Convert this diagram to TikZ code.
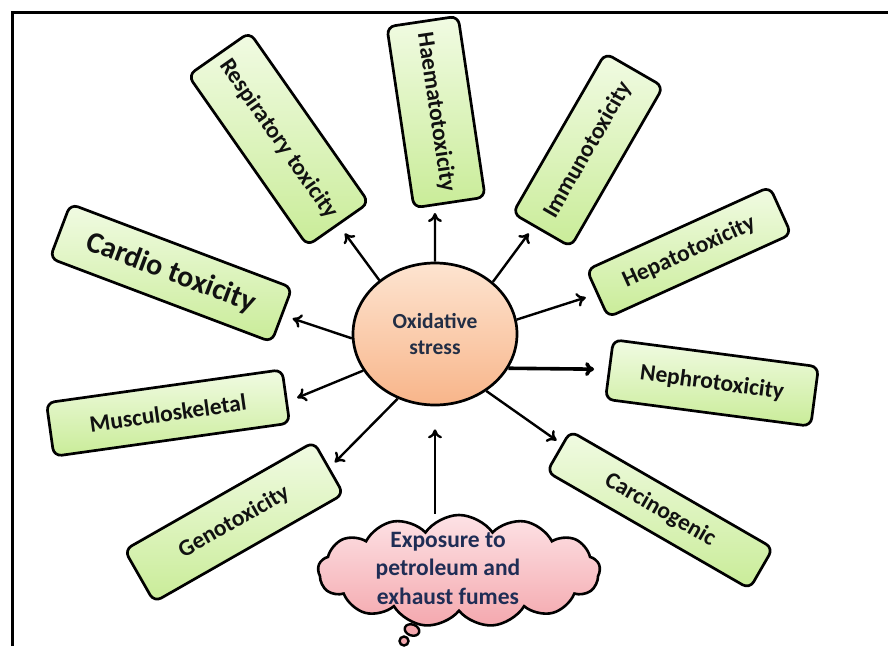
\documentclass[tikz,border=0pt]{standalone}
\usepackage{fontspec}
\setmainfont{Carlito}
\usetikzlibrary{shapes.symbols,shapes.geometric,arrows.meta,calc}
\definecolor{gA}{HTML}{F1FBE3}
\definecolor{gB}{HTML}{C9EC98}
\definecolor{oA}{HTML}{FDE4D0}
\definecolor{oB}{HTML}{F8B58A}
\definecolor{pA}{HTML}{FDE2E5}
\definecolor{pB}{HTML}{F4A8AE}
\definecolor{navy}{HTML}{1F2D55}
\definecolor{navytwo}{HTML}{222E45}
\definecolor{inkc}{HTML}{111111}
\begin{document}
\begin{tikzpicture}[x=1pt,y=-1pt,
  toxbox/.style={draw=black, line width=2.7pt, rounded corners=8pt, inner sep=0pt,
    top color=gA, bottom color=gB, text=inkc, font=\fontsize{23.5}{27}\selectfont\bfseries},
  arr/.style={-{To[length=9pt,width=14pt]}, line width=2.4pt},
  bubble/.style={draw=black, line width=2.4pt, fill=pB, inner sep=0pt},
]
\useasboundingbox (0,0) rectangle (888,646);
\fill[white] (0,0) rectangle (888,646);
\draw[line width=3pt] (12,646) -- (12,12) -- (888,12);

% boxes
\node[toxbox, rotate=-55, minimum width=208pt, minimum height=75pt] (resp) at (278.5,139) {Respiratory toxicity};
\node[toxbox, rotate=-81.5, minimum width=183pt, minimum height=72pt] (haem) at (436,112) {Haematotoxicity};
\node[toxbox, rotate=60, minimum width=185pt, minimum height=67pt] (immu) at (588,150) {Immunotoxicity};
\node[toxbox, rotate=24.4, minimum width=201pt, minimum height=52pt] (hepa) at (689,252) {Hepatotoxicity};
\node[toxbox, rotate=-7.5, minimum width=207pt, minimum height=60pt] (neph) at (712,383) {Nephrotoxicity};
\node[toxbox, rotate=-30, minimum width=234pt, minimum height=47pt] (carc) at (660,510) {Carcinogenic};
\node[toxbox, rotate=8, minimum width=238pt, minimum height=54pt] (musc) at (168,413) {Musculoskeletal};
\node[toxbox, rotate=29.7, minimum width=218pt, minimum height=60pt] (geno) at (234,522) {Genotoxicity};
\node[toxbox, rotate=-20.7, minimum width=237pt, minimum height=58pt, font=\fontsize{30}{34}\selectfont\bfseries] (card) at (171,273) {Cardio toxicity};

% centre
\node[ellipse, draw=black, line width=2.7pt, minimum width=164pt, minimum height=142pt,
  top color=oA, bottom color=oB, inner sep=0pt, align=center, text=navytwo,
  font=\fontsize{21.5}{26}\selectfont\bfseries] (ox) at (435,334) {Oxidative\\stress};

% cloud
\node[cloud, cloud puffs=13, cloud puff arc=110, cloud ignores aspect, draw=black, line width=2.6pt,
  minimum width=282pt, minimum height=112pt, top color=pA, bottom color=pB, inner sep=0pt] (cloud) at (459,571) {};
\node[align=center, text=navy, font=\fontsize{23.5}{28.5}\selectfont\bfseries] (cloudtxt) at (448,568)
  {Exposure to\\petroleum and\\exhaust fumes};
\node[bubble, ellipse, minimum width=15pt, minimum height=11pt, rotate=-20] (bubA) at (412,630) {};
\node[bubble, circle, minimum size=9pt] (bubB) at (404,641) {};

% arrows
\draw[arr, shorten >=10pt] (ox.136.5) -- (resp.east);
\draw[arr, shorten >=7pt] (ox.90) -- ($(haem.east)!0.4!(haem.south east)$);
\draw[arr, shorten >=8pt] (ox.42) -- ($(immu.west)!0.25!(immu.north west)$);
\draw[arr, shorten >=11pt] (ox.10) -- (hepa.west);
\draw[arr, line width=3.6pt, shorten >=14pt] (ox.-25) -- (neph.west);
\draw[arr, shorten >=6pt] (ox.-48.5) -- ($(carc.west)!0.32!(carc.north west)$);
\draw[arr, shorten >=7pt] (ox.240.5) -- (geno.east);
\draw[arr, shorten >=10pt] (ox.207) -- ($(musc.east)!0.19!(musc.south east)$);
\draw[arr, shorten >=10pt] (ox.183) -- (card.east);
\draw[arr, shorten >=23pt] (cloud.north -| ox.south) -- (ox.south);
\end{tikzpicture}
\end{document}
